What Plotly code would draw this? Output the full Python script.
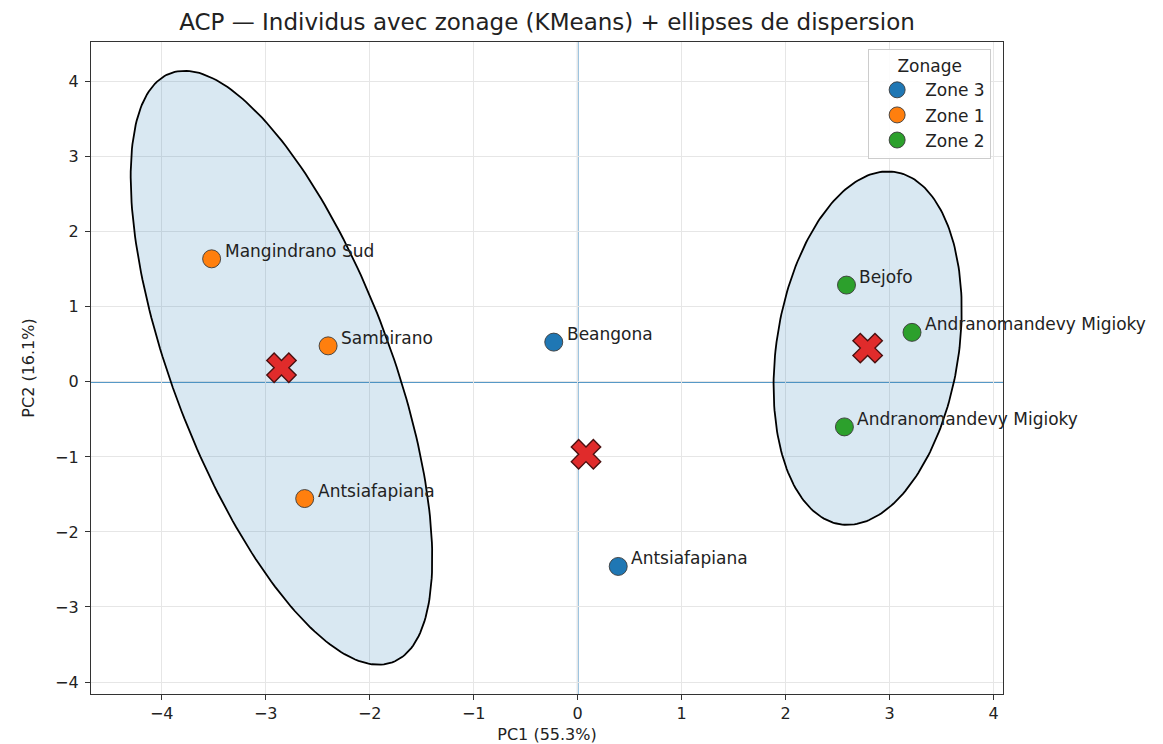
import numpy as np
import plotly.graph_objects as go

# Individuals projected on the first two principal components
zone3_names = ["Beangona", "Antsiafapiana"]
zone3_pc1 = [-0.23, 0.39]
zone3_pc2 = [0.53, -2.46]

zone1_names = ["Mangindrano Sud", "Sambirano", "Antsiafapiana"]
zone1_pc1 = [-3.52, -2.40, -2.625]
zone1_pc2 = [1.64, 0.48, -1.555]

zone2_names = ["Bejofo", "Andranomandevy Migioky", "Andranomandevy Migioky"]
zone2_pc1 = [2.585, 3.215, 2.565]
zone2_pc2 = [1.29, 0.66, -0.60]

zone_labels = ["Zone 3", "Zone 1", "Zone 2"]
zone_colors = ["#1f77b4", "#ff7f0e", "#2ca02c"]

FONT = "DejaVu Sans"
TXT = "#222222"
CHI2_95 = 5.991  # 95 % quantile, chi-square with 2 dof


def dispersion_ellipse(xs, ys, npts=240):
    xs = np.asarray(xs, float)
    ys = np.asarray(ys, float)
    cov = np.cov(xs, ys)
    vals, vecs = np.linalg.eigh(cov)
    t = np.linspace(0, 2 * np.pi, npts)
    circle = np.vstack([np.cos(t), np.sin(t)])
    pts = vecs @ (np.sqrt(vals * CHI2_95)[:, None] * circle)
    return pts[0] + xs.mean(), pts[1] + ys.mean()


zones = [
    (zone3_names, zone3_pc1, zone3_pc2),
    (zone1_names, zone1_pc1, zone1_pc2),
    (zone2_names, zone2_pc1, zone2_pc2),
]

fig = go.Figure()

# reference axes through the origin
fig.add_hline(y=0, line=dict(color="#1f77b4", width=1.5), layer="below")
fig.add_vline(x=0, line=dict(color="#1f77b4", width=1.5), layer="below")

# dispersion ellipses (only for zones with at least 3 individuals)
for names, xs, ys in zones:
    if len(xs) >= 3:
        ex, ey = dispersion_ellipse(xs, ys)
        fig.add_trace(go.Scatter(
            x=ex, y=ey, mode="lines", fill="toself",
            fillcolor="rgba(31,119,180,0.17)",
            line=dict(color="black", width=1.8),
            showlegend=False, hoverinfo="skip",
        ))

# individuals
for (names, xs, ys), label, color in zip(zones, zone_labels, zone_colors):
    fig.add_trace(go.Scatter(
        x=xs, y=ys, mode="markers", name=label, text=names,
        marker=dict(size=18, color=color, line=dict(color="#3a3a3a", width=0.9)),
    ))

# KMeans centroids
cx = [float(np.mean(xs)) for _, xs, _ in zones]
cy = [float(np.mean(ys)) for _, _, ys in zones]
fig.add_trace(go.Scatter(
    x=cx, y=cy, mode="markers", showlegend=False,
    marker=dict(symbol="x", size=26, color="#e02b2b",
                line=dict(color="#4a1010", width=1.4)),
))

# point labels
for names, xs, ys in zones:
    for n, x, y in zip(names, xs, ys):
        fig.add_annotation(
            x=x, y=y, xref="x", yref="y", text=n, showarrow=False,
            xanchor="left", yanchor="middle", xshift=11, yshift=8,
            font=dict(family=FONT, size=17, color=TXT),
        )

axis_common = dict(
    showline=True, mirror=True, linecolor="#333333", linewidth=1.3,
    ticks="outside", ticklen=5, tickcolor="#333333", tickwidth=1,
    showgrid=True, gridcolor="#e6e6e6", gridwidth=1,
    zeroline=False, automargin=False,
    dtick=1, tickfont=dict(family=FONT, size=16, color=TXT),
)

fig.update_layout(
    width=1163, height=744,
    margin=dict(l=91, r=160, t=42, b=50),
    paper_bgcolor="white", plot_bgcolor="white",
    title=dict(
        text="ACP — Individus avec zonage (KMeans) + ellipses de dispersion",
        x=(91 + 1003) / 2 / 1163, xanchor="center", y=0.97, yanchor="middle",
        font=dict(family=FONT, size=23, color=TXT),
    ),
    xaxis=dict(range=[-4.68, 4.09], ticklabelstandoff=0,
               title=dict(text="PC1 (55.3%)", standoff=9,
                          font=dict(family=FONT, size=16, color=TXT)),
               **axis_common),
    yaxis=dict(range=[-4.16, 4.53], ticklabelstandoff=3,
               title=dict(text="PC2 (16.1%)", standoff=16,
                          font=dict(family=FONT, size=16, color=TXT)),
               **axis_common),
    legend=dict(
        x=0.987, y=0.989, xanchor="right", yanchor="top",
        bgcolor="rgba(255,255,255,0.85)", bordercolor="#cccccc", borderwidth=1,
        font=dict(family=FONT, size=17, color=TXT),
        title=dict(text="Zonage", side="top center",
                   font=dict(family=FONT, size=17, color=TXT)),
        itemwidth=46,
    ),
)

fig.write_html("out.html")
